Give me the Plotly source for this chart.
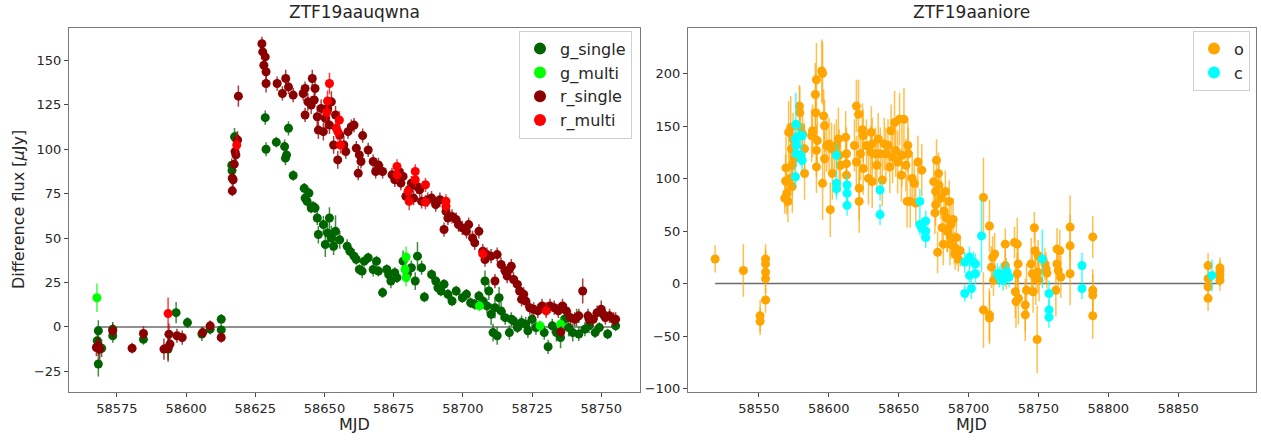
import plotly.graph_objects as go

# ---------------- Left panel: ZTF19aauqwna ----------------
g_single_mjd = [58567.9, 58568.3, 58568.3, 58569.5, 58573.5, 58573.5, 58584.6, 58593.5, 58596.4, 58600.5,
                58605.7, 58608.7, 58612.7, 58612.7, 58616.5, 58616.6, 58617.5, 58618.0, 58628.6, 58628.9,
                58632.6, 58635.6, 58635.9, 58636.3, 58637.0, 58638.7, 58642.7, 58643.0, 58643.7, 58644.4,
                58645.2, 58645.9, 58646.6, 58647.4, 58647.8, 58649.6, 58650.3, 58651.1, 58651.8, 58652.5,
                58653.3, 58654.0, 58655.5, 58658.2, 58659.2, 58660.7, 58661.5, 58662.6, 58663.6, 58664.4,
                58665.8, 58667.6, 58668.8, 58669.5, 58671.0, 58672.5, 58673.2, 58674.0, 58675.4, 58676.2,
                58678.4, 58679.9, 58681.4, 58682.8, 58683.6, 58685.1, 58686.1, 58688.7, 58690.2, 58691.0,
                58692.1, 58693.2, 58694.6, 58696.1, 58697.6, 58699.8, 58701.3, 58702.8, 58704.3, 58705.8,
                58707.2, 58708.0, 58708.7, 58709.4, 58710.2, 58710.9, 58711.6, 58712.4, 58713.1, 58713.8,
                58715.3, 58716.8, 58717.5, 58718.3, 58719.7, 58721.2, 58722.7, 58723.5, 58725.0, 58726.4,
                58729.4, 58730.8, 58732.3, 58733.8, 58735.3, 58736.7, 58738.2, 58739.7, 58741.1, 58741.9,
                58744.1, 58745.6, 58747.8, 58749.3, 58752.3, 58755.2]
g_single_flux = [-7.8, -2.2, -20.9, -12.0, -5.0, -1.3, -7.0, -12.5, 8.0, 2.4,
                 -4.0, -1.3, 4.3, -1.7, 91.0, 88.0, 107.0, 106.0, 117.8, 100.0,
                 104.0, 101.5, 95.0, 96.8, 111.8, 85.2, 78.0, 72.5, 70.7, 75.3,
                 66.9, 67.8, 66.9, 61.3, 52.0, 57.6, 46.4, 52.9, 61.3, 50.0,
                 45.4, 53.8, 49.0, 45.4, 42.6, 39.8, 38.0, 32.3, 31.4, 37.0,
                 38.9, 32.3, 37.0, 31.4, 19.3, 32.3, 29.5, 25.8, 30.5, 27.7,
                 37.0, 29.5, 33.3, 25.8, 39.8, 33.3, 16.8, 29.5, 25.8, 22.0,
                 20.2, 24.0, 18.3, 14.6, 20.2, 16.4, 18.3, 13.6, 12.7, 17.4,
                 14.6, 25.8, 11.8, 20.2, 7.1, -3.2, 10.8, -5.0, 16.4, 9.0,
                 5.2, -3.2, 4.3, 3.4, -0.4, 2.4, 1.5, -2.2, 4.3, -0.4,
                 -3.2, -11.2, 0.6, -3.2, -6.0, 4.3, -0.4, -3.2, 5.2, -4.0,
                 -1.3, 0.6, -3.2, -0.4, -4.0, 0.6]
g_single_err = [5, 6, 7, 5, 4, 4, 3, 6, 6, 3,
                4, 3, 3, 3, 4, 4, 5, 4, 4, 4,
                3, 4, 4, 4, 4, 3, 3, 3, 3, 3,
                3, 3, 3, 4, 5, 5, 7, 8, 6, 7,
                5, 9, 5, 4, 3, 4, 3, 3, 4, 3,
                3, 4, 3, 3, 3, 3, 3, 4, 3, 3,
                6, 4, 4, 5, 8, 4, 3, 3, 3, 3,
                3, 3, 3, 3, 3, 3, 3, 3, 3, 3,
                3, 6, 4, 5, 6, 5, 6, 5, 6, 5,
                4, 4, 4, 3, 3, 4, 4, 4, 4, 4,
                4, 4, 4, 5, 6, 6, 5, 5, 5, 4,
                4, 4, 3, 3, 3, 3]

g_multi_mjd = [58567.8, 58679.1, 58679.5, 58679.5, 58706.0, 58727.9, 58735.3]
g_multi_flux = [16.4, 32.3, 39.3, 27.7, 11.8, 0.6, 1.5]
g_multi_err = [8, 5, 6, 5, 3, 3, 4]

r_single_mjd = [58567.6, 58568.3, 58568.8, 58573.5, 58580.5, 58584.6, 58592.0, 58593.5, 58593.8, 58594.2,
                58596.7, 58598.6, 58606.0, 58608.7, 58612.7, 58616.7, 58616.7, 58617.0, 58617.4, 58617.7,
                58618.0, 58618.6, 58618.9, 58627.4, 58627.7, 58628.1, 58628.6, 58628.9, 58628.9, 58632.9,
                58634.8, 58636.0, 58637.0, 58638.7, 58642.3, 58643.0, 58643.0, 58644.0, 58645.2, 58645.6,
                58646.3, 58646.6, 58647.4, 58647.8, 58648.8, 58649.6, 58650.3, 58651.1, 58651.8, 58652.5,
                58653.3, 58654.0, 58654.8, 58655.5, 58657.0, 58657.7, 58658.5, 58659.7, 58660.7, 58661.5,
                58662.2, 58662.6, 58663.2, 58663.8, 58665.8, 58667.6, 58668.5, 58669.5, 58671.0, 58674.4,
                58675.4, 58676.9, 58677.6, 58678.4, 58679.4, 58680.6, 58681.4, 58682.2, 58683.4, 58684.4,
                58685.1, 58687.3, 58688.7, 58690.2, 58691.7, 58693.2, 58693.9, 58694.6, 58696.1, 58697.6,
                58698.4, 58699.8, 58701.3, 58702.1, 58703.5, 58704.3, 58705.8, 58707.2, 58708.0, 58708.7,
                58710.2, 58711.6, 58712.4, 58713.8, 58715.3, 58716.0, 58716.8, 58717.5, 58718.3, 58719.7,
                58720.5, 58721.2, 58722.0, 58722.7, 58724.2, 58725.6, 58727.1, 58728.6, 58730.1, 58731.5,
                58733.0, 58734.5, 58735.4, 58736.0, 58737.4, 58738.9, 58740.4, 58741.9, 58743.3, 58745.2,
                58745.6, 58747.1, 58748.5, 58750.0, 58750.7, 58751.5, 58753.0, 58754.5, 58755.2]
r_single_flux = [-11.6, -10.7, -12.5, -2.2, -12.0, -3.7, -12.5, -11.6, -4.1, -9.7,
                 -5.0, -6.0, -3.2, 0.6, -6.0, 76.6, 83.7, 82.8, 91.6, 98.7,
                 96.8, 105.2, 129.9, 159.4, 154.8, 147.3, 152.0, 143.6, 137.0, 137.0,
                 131.4, 139.8, 135.1, 130.5, 131.4, 134.2, 119.3, 126.7, 124.9, 139.8,
                 127.7, 134.2, 118.3, 110.8, 123.0, 109.9, 117.4, 123.0, 113.6, 126.7,
                 102.4, 119.3, 94.0, 108.0, 102.4, 98.7, 109.9, 112.7, 113.6, 100.6,
                 86.5, 96.8, 93.1, 107.7, 99.6, 93.1, 87.5, 91.2, 87.5, 85.6,
                 82.8, 87.5, 80.9, 84.7, 73.5, 77.2, 80.9, 72.5, 79.0, 77.2,
                 70.7, 71.6, 72.5, 68.8, 71.6, 54.8, 65.0, 61.3, 62.2, 60.4,
                 57.6, 55.7, 53.8, 57.6, 50.1, 47.3, 53.8, 42.6, 37.9, 40.7,
                 39.8, 25.8, 40.7, 35.1, 31.4, 28.6, 32.3, 34.2, 26.7, 23.9,
                 20.2, 15.5, 18.3, 14.6, 10.8, 9.9, 9.0, 11.8, 9.9, 11.8,
                 10.8, 9.0, -2.8, 11.8, 9.0, 5.2, 4.3, 6.2, 20.2, 6.2,
                 4.3, 4.3, 8.0, 9.9, 7.1, 5.2, 6.2, 4.3, 4.3]
r_single_err = [5, 5, 6, 4, 3, 4, 6, 8, 6, 5,
                4, 4, 3, 3, 3, 3, 4, 4, 4, 5,
                4, 5, 6, 4, 4, 4, 4, 4, 5, 4,
                4, 5, 4, 4, 4, 4, 4, 5, 5, 5,
                4, 4, 6, 5, 5, 5, 6, 6, 5, 6,
                5, 5, 5, 4, 5, 4, 4, 4, 4, 4,
                4, 4, 4, 4, 4, 4, 4, 4, 4, 4,
                4, 4, 4, 4, 4, 4, 4, 4, 4, 4,
                4, 4, 4, 4, 4, 4, 4, 4, 4, 4,
                4, 4, 4, 4, 4, 4, 4, 4, 4, 4,
                4, 4, 4, 4, 4, 4, 4, 4, 4, 4,
                4, 4, 4, 4, 4, 4, 4, 4, 4, 4,
                4, 4, 3, 4, 4, 4, 4, 4, 7, 4,
                4, 4, 4, 5, 4, 4, 4, 4, 4]

r_multi_mjd = [58593.5, 58618.3, 58650.8, 58651.1, 58651.8, 58654.3, 58654.8, 58655.4, 58655.8, 58676.2,
               58676.2, 58680.2, 58680.6, 58682.8, 58682.8, 58686.5, 58686.5, 58693.9, 58693.9, 58707.2,
               58730.1]
r_multi_flux = [7.5, 102.4, 120.7, 127.1, 137.0, 111.8, 109.9, 116.4, 102.4, 90.3,
                85.6, 76.3, 70.7, 87.5, 82.8, 80.0, 70.2, 70.7, 67.9, 41.1,
                9.0]
r_multi_err = [9, 6, 5, 6, 6, 6, 5, 5, 5, 4,
               4, 4, 5, 4, 4, 4, 4, 4, 4, 4,
               4]

# ---------------- Right panel: ZTF19aaniore ----------------
o_mjd = [58518.7, 58538.9, 58550.9, 58550.9, 58554.8, 58554.8, 58554.8, 58554.8, 58554.8, 58568.5,
         58569.1, 58569.4, 58570.0, 58570.8, 58571.3, 58572.2, 58572.8, 58573.3, 58573.9, 58573.9,
         58574.5, 58575.4, 58579.0, 58579.3, 58579.8, 58581.3, 58582.7, 58582.7, 58587.8, 58588.4,
         58590.4, 58590.7, 58591.2, 58591.2, 58591.2, 58591.8, 58595.0, 58595.6, 58595.6, 58596.4,
         58597.0, 58597.0, 58598.5, 58600.3, 58601.1, 58602.0, 58602.6, 58604.0, 58605.5, 58606.9,
         58607.5, 58608.4, 58612.1, 58612.7, 58612.7, 58612.7, 58618.4, 58619.8, 58619.8, 58621.3,
         58621.8, 58621.8, 58622.7, 58624.1, 58624.7, 58624.7, 58627.0, 58628.4, 58629.9, 58630.5,
         58631.1, 58631.1, 58633.4, 58634.5, 58635.4, 58636.9, 58638.3, 58639.7, 58640.9, 58642.4,
         58643.7, 58644.6, 58645.7, 58647.1, 58647.9, 58649.3, 58650.7, 58652.0, 58652.4, 58653.8,
         58655.2, 58656.1, 58656.6, 58656.9, 58658.3, 58659.7, 58661.2, 58662.3, 58663.8, 58666.6,
         58675.1, 58676.0, 58676.5, 58676.5, 58677.1, 58677.9, 58678.5, 58678.8, 58680.2, 58681.1,
         58682.0, 58682.5, 58683.4, 58684.2, 58684.8, 58686.2, 58686.7, 58687.5, 58687.5, 58689.0,
         58689.9, 58690.4, 58691.3, 58691.3, 58692.7, 58694.1, 58684.8, 58710.7, 58710.7, 58715.0,
         58715.0, 58715.0, 58716.4, 58717.3, 58717.9, 58718.7, 58726.3, 58726.3, 58727.1, 58732.9,
         58733.5, 58734.0, 58734.9, 58734.9, 58735.5, 58735.7, 58740.6, 58740.6, 58741.5, 58744.8,
         58745.7, 58746.2, 58747.1, 58747.6, 58748.2, 58749.1, 58749.6, 58749.9, 58750.5, 58754.7,
         58755.5, 58756.1, 58762.5, 58763.3, 58763.3, 58764.2, 58765.3, 58766.1, 58772.7, 58772.7,
         58772.7, 58788.9, 58788.9, 58788.9, 58788.9, 58871.4, 58871.4, 58871.4, 58871.4, 58879.9,
         58879.9, 58879.9, 58879.9]
o_flux = [23.5, 12.5, -30.7, -36.0, 23.5, 18.8, 11.0, 4.7, -15.7, 81.5,
          97.8, 110.3, 86.2, 78.4, 144.2, 100.3, 148.9, 128.5, 92.5, 112.9,
          137.9, 119.1, 169.3, 163.0, 148.9, 142.6, 105.0, 128.5, 141.0, 145.8,
          180.3, 163.0, 194.4, 127.0, 111.3, 136.4, 202.8, 200.6, 95.6, 159.9,
          150.5, 119.1, 131.7, 133.2, 70.5, 128.5, 105.0, 127.0, 131.7, 137.9,
          122.3, 112.9, 139.5, 123.8, 114.4, 103.4, 131.7, 116.0, 169.3, 161.4,
          90.9, 78.4, 123.8, 146.7, 141.0, 109.7, 131.7, 100.3, 125.4, 144.2,
          133.2, 97.2, 123.8, 112.9, 137.9, 123.8, 98.7, 133.2, 123.8, 131.7,
          111.3, 145.8, 120.7, 153.6, 127.0, 116.0, 156.7, 103.4, 122.3, 156.7,
          112.9, 78.4, 131.7, 123.8, 78.4, 100.3, 95.6, 76.8, 116.0, 108.2,
          97.2, 67.4, 87.8, 75.2, 117.6, 29.8, 105.0, 94.0, 81.5, 53.3,
          37.6, 69.0, 87.8, 62.7, 50.2, 78.4, 37.6, 56.4, 43.9, 61.1,
          34.5, 28.2, 43.9, 32.9, 23.5, 31.3, 50.2, 82.1, -25.1, 54.9,
          -29.8, -32.9, 15.7, 25.1, 3.1, 28.2, 37.6, 17.2, 9.4, 39.2,
          -7.8, -17.2, 37.6, 9.4, 18.8, -14.1, -20.4, -29.8, -6.3, 18.8,
          9.4, -7.8, 53.3, 31.3, 4.7, -53.3, 11.0, 26.6, 3.1, 18.8,
          14.1, 10.0, -6.3, 32.9, 18.8, 12.5, 31.3, 6.3, 53.9, 36.0,
          9.4, 44.5, -6.3, -11.0, -30.7, 17.2, 4.7, -3.1, -14.1, 15.0,
          11.9, 7.8, 3.1]
o_err = [13, 25, 15, 13, 14, 14, 14, 14, 12, 15,
         25, 30, 20, 20, 30, 25, 30, 25, 25, 30,
         25, 25, 20, 25, 20, 25, 25, 25, 25, 25,
         30, 30, 35, 25, 25, 25, 30, 30, 35, 25,
         25, 25, 25, 25, 26, 25, 25, 25, 25, 30,
         25, 25, 25, 25, 25, 25, 25, 25, 25, 33,
         30, 30, 25, 25, 25, 25, 25, 25, 25, 25,
         25, 25, 25, 25, 25, 25, 25, 25, 25, 25,
         25, 25, 25, 30, 25, 30, 25, 25, 30, 30,
         25, 25, 25, 25, 25, 25, 20, 20, 25, 25,
         20, 20, 20, 20, 20, 20, 20, 20, 20, 20,
         20, 20, 20, 20, 20, 20, 20, 20, 20, 20,
         15, 15, 15, 15, 12, 15, 20, 38, 36, 25,
         25, 25, 20, 20, 15, 20, 15, 15, 15, 15,
         25, 25, 25, 20, 20, 25, 25, 25, 25, 25,
         20, 20, 15, 25, 25, 32, 20, 15, 20, 15,
         15, 15, 25, 20, 15, 15, 20, 20, 30, 30,
         30, 20, 20, 20, 22, 12, 12, 12, 12, 10,
         10, 10, 10]

c_mjd = [58576.5, 58576.0, 58576.7, 58576.7, 58576.2, 58579.0, 58581.0, 58580.1, 58581.0, 58605.5,
         58605.5, 58605.5, 58613.1, 58613.1, 58613.1, 58636.7, 58636.7, 58665.2, 58665.2, 58666.6,
         58669.4, 58669.4, 58669.4, 58697.3, 58697.3, 58700.7, 58700.7, 58702.1, 58703.5, 58705.0,
         58705.0, 58709.3, 58720.6, 58722.0, 58723.4, 58724.8, 58726.3, 58727.7, 58729.1, 58752.8,
         58757.6, 58757.6, 58757.6, 58781.2, 58781.2, 58874.2]
c_flux = [152.0, 137.9, 131.7, 123.8, 101.9, 141.0, 141.0, 122.3, 117.6, 122.3,
          95.6, 90.3, 94.0, 86.2, 74.6, 89.3, 65.8, 78.4, 56.4, 52.7,
          59.6, 50.2, 43.9, 20.4, -9.4, 25.1, 7.8, -4.7, 20.4, 18.8,
          9.4, 45.5, 9.4, 6.3, 9.4, 3.1, 7.8, 11.0, 6.3, 23.5,
          -9.4, -25.1, -32.0, 17.2, -4.7, 7.8]
c_err = [30, 12, 12, 12, 10, 12, 12, 10, 10, 12,
         12, 10, 10, 10, 10, 10, 10, 12, 10, 10,
         10, 10, 10, 10, 8, 10, 10, 10, 10, 10,
         10, 35, 10, 10, 10, 10, 10, 10, 10, 28,
         12, 10, 10, 12, 10, 15]

titles = ["ZTF19aauqwna", "ZTF19aaniore"]
left_xticks = [58575, 58600, 58625, 58650, 58675, 58700, 58725, 58750]
left_yticks = [-25, 0, 25, 50, 75, 100, 125, 150]
right_xticks = [58550, 58600, 58650, 58700, 58750, 58800, 58850]
right_yticks = [-100, -50, 0, 50, 100, 150, 200]

FONT = "DejaVu Sans"
TXT = "#262626"

fig = go.Figure()


def add_series(x, y, err, name, color, ecolor, xa, ya, legend):
    fig.add_trace(go.Scatter(
        x=x, y=y, mode="markers", name=name,
        marker=dict(color=color, size=9, line=dict(width=0)),
        error_y=dict(type="data", array=err, visible=True, color=ecolor,
                     thickness=1.5, width=0),
        xaxis=xa, yaxis=ya, legend=legend,
    ))


# zero baselines spanning the data
lx = g_single_mjd + g_multi_mjd + r_single_mjd + r_multi_mjd
rx = o_mjd + c_mjd
fig.add_trace(go.Scatter(x=[min(lx), max(lx)], y=[0, 0], mode="lines",
                         line=dict(color="rgba(70,70,70,0.8)", width=1.5),
                         showlegend=False, xaxis="x", yaxis="y", hoverinfo="skip"))
fig.add_trace(go.Scatter(x=[min(rx), max(rx)], y=[0, 0], mode="lines",
                         line=dict(color="rgba(70,70,70,0.8)", width=1.5),
                         showlegend=False, xaxis="x2", yaxis="y2", hoverinfo="skip"))

add_series(g_single_mjd, g_single_flux, g_single_err, "g_single", "#006400", "rgba(0,100,0,0.75)", "x", "y", "legend")
add_series(g_multi_mjd, g_multi_flux, g_multi_err, "g_multi", "#00ff00", "rgba(0,255,0,0.75)", "x", "y", "legend")
add_series(r_single_mjd, r_single_flux, r_single_err, "r_single", "#8b0000", "rgba(139,0,0,0.75)", "x", "y", "legend")
add_series(r_multi_mjd, r_multi_flux, r_multi_err, "r_multi", "#ff0000", "rgba(255,0,0,0.75)", "x", "y", "legend")
add_series(o_mjd, o_flux, o_err, "o", "#ffa500", "rgba(255,165,0,0.7)", "x2", "y2", "legend2")
add_series(c_mjd, c_flux, c_err, "c", "#00ffff", "rgba(0,255,255,0.75)", "x2", "y2", "legend2")

W, H = 1261, 443
L1, R1 = 69 / W, 640 / W
L2, R2 = 688 / W, 1256 / W
B, T = (H - 396) / H, (H - 28) / H

axis_common = dict(showgrid=False, zeroline=False, showline=True, mirror=True,
                   linecolor="#7a7a7a", linewidth=1, ticks="outside", ticklen=4,
                   tickcolor="#444", tickwidth=1,
                   tickfont=dict(family=FONT, size=13, color=TXT))

fig.update_layout(
    width=W, height=H,
    margin=dict(l=0, r=0, t=0, b=0),
    paper_bgcolor="white", plot_bgcolor="white",
    font=dict(family=FONT, color=TXT),
    xaxis=dict(domain=[L1, R1], range=[58557.7, 58764.0], tickvals=left_xticks,
               tickformat="d", anchor="y", **axis_common),
    yaxis=dict(domain=[B, T], range=[-36.9, 168.4], tickvals=left_yticks,
               anchor="x", **axis_common),
    xaxis2=dict(domain=[L2, R2], range=[58499.3, 58905.7], tickvals=right_xticks,
                tickformat="d", anchor="y2", **axis_common),
    yaxis2=dict(domain=[B, T], range=[-103.8, 244.0], tickvals=right_yticks,
                anchor="x2", **axis_common),
    legend=dict(x=632 / W, xanchor="right", y=(H - 31) / H, yanchor="top",
                bgcolor="rgba(255,255,255,0.8)", bordercolor="#d0d0d0", borderwidth=1,
                font=dict(family=FONT, size=16, color=TXT), itemsizing="constant",
                tracegroupgap=0),
    legend2=dict(x=1250 / W, xanchor="right", y=(H - 31) / H, yanchor="top",
                 bgcolor="rgba(255,255,255,0.8)", bordercolor="#d0d0d0", borderwidth=1,
                 font=dict(family=FONT, size=16, color=TXT), itemsizing="constant"),
    showlegend=True,
)

annotations = [
    dict(text=titles[0], x=(L1 + R1) / 2, y=(H - 12) / H, xref="paper", yref="paper",
         showarrow=False, font=dict(family=FONT, size=17, color=TXT), xanchor="center", yanchor="middle"),
    dict(text=titles[1], x=(L2 + R2) / 2, y=(H - 12) / H, xref="paper", yref="paper",
         showarrow=False, font=dict(family=FONT, size=17, color=TXT), xanchor="center", yanchor="middle"),
    dict(text="MJD", x=(L1 + R1) / 2, y=(H - 428) / H, xref="paper", yref="paper",
         showarrow=False, font=dict(family=FONT, size=16, color=TXT), xanchor="center", yanchor="middle"),
    dict(text="MJD", x=(L2 + R2) / 2, y=(H - 428) / H, xref="paper", yref="paper",
         showarrow=False, font=dict(family=FONT, size=16, color=TXT), xanchor="center", yanchor="middle"),
    dict(text="Difference flux [<i>μ</i>Jy]", x=18 / W, y=(B + T) / 2, xref="paper", yref="paper",
         showarrow=False, textangle=-90, font=dict(family=FONT, size=16, color=TXT),
         xanchor="center", yanchor="middle"),
]
fig.update_layout(annotations=annotations)

fig.write_html("out.html")
